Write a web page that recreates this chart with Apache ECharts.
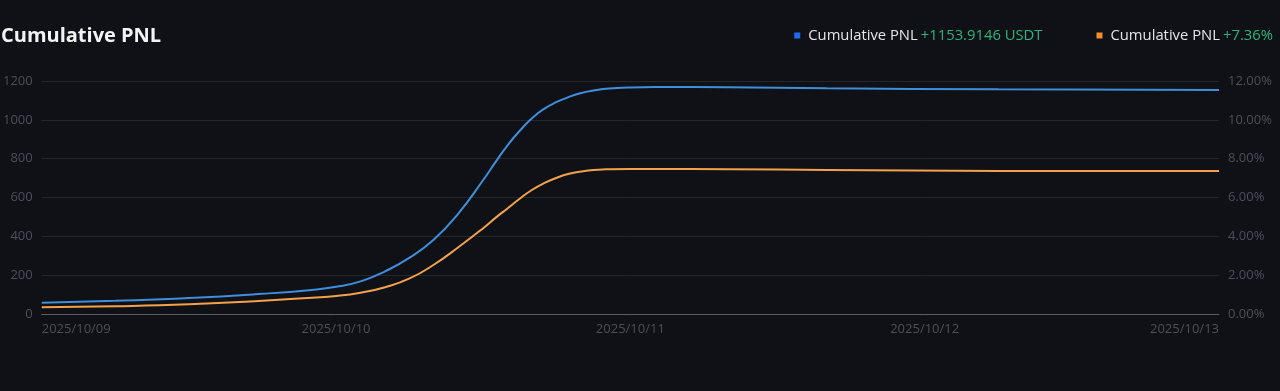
<!DOCTYPE html>
<html>
<head>
<meta charset="utf-8">
<script src="https://cdn.jsdelivr.net/npm/echarts@6/dist/echarts.min.js"></script>
<style>
html,body{margin:0;padding:0;background:#101116;}
#chart{width:1280px;height:391px;}
</style>
</head>
<body>
<div id="chart"></div>
<script>
// Hours since 2025/10/09 00:00
const hours = [0, 6, 12, 18, 22, 24, 26, 28, 30, 32, 34, 36, 37, 38, 39, 40, 41, 42, 43, 44, 45, 46, 48, 50, 56, 64, 78, 96];
// Cumulative PNL in USDT (left axis)
const pnlUsdt = [58, 68, 82, 104, 124, 140, 168, 220, 290, 385, 520, 690, 782, 870, 945, 1010, 1058, 1092, 1118, 1138, 1151, 1160, 1167, 1169, 1168, 1163, 1157, 1153.9146];
// Cumulative PNL in % (right axis)
const pnlPct = [0.35, 0.40, 0.50, 0.68, 0.84, 0.93, 1.10, 1.38, 1.83, 2.55, 3.45, 4.42, 4.95, 5.45, 5.95, 6.40, 6.75, 7.02, 7.22, 7.34, 7.42, 7.45, 7.47, 7.47, 7.46, 7.42, 7.37, 7.36];
const dateLabels = ['2025/10/09', '2025/10/10', '2025/10/11', '2025/10/12', '2025/10/13'];
const leftTicks = [0, 200, 400, 600, 800, 1000, 1200];
const rightTicks = [0, 2, 4, 6, 8, 10, 12];
const legendValues = {usdt: '+1153.9146 USDT', pct: '+7.36%'};

const chart = echarts.init(document.getElementById('chart'), null, {renderer: 'canvas'});
const font = '"Open Sans", "Noto Sans", sans-serif';
const labelColor = '#4c4f58';

chart.setOption({
  backgroundColor: '#101116',
  animation: false,
  title: {
    text: 'Cumulative PNL',
    left: -4,
    top: 21,
    textStyle: {color: '#f2f3f5', fontSize: 20, fontWeight: 'bold', fontFamily: font}
  },
  legend: {
    right: 2,
    top: 23,
    icon: 'rect',
    itemWidth: 6,
    itemHeight: 6,
    itemGap: 54,
    selectedMode: false,
    data: [
      {name: 'usdt', itemStyle: {color: '#1d6cf2'}},
      {name: 'pct', itemStyle: {color: '#f28c2c'}}
    ],
    formatter: function (name) {
      return '{a|Cumulative PNL} {b|' + legendValues[name] + '}';
    },
    textStyle: {
      fontFamily: font,
      padding: [0, 0, 0, 3],
      rich: {
        a: {color: '#e4e5e8', fontSize: 14.8, fontFamily: font},
        b: {color: '#2bb57a', fontSize: 14.8, fontFamily: font}
      }
    }
  },
  grid: {left: 40, right: 61, top: 81, bottom: 77, containLabel: false},
  xAxis: {
    type: 'value',
    min: 0,
    max: 96,
    interval: 24,
    axisLine: {show: true, lineStyle: {color: '#5d5f68', width: 1}},
    axisTick: {show: false},
    splitLine: {show: false},
    axisLabel: {
      color: labelColor,
      fontSize: 13,
      fontFamily: font,
      margin: 9,
      alignMinLabel: 'left',
      alignMaxLabel: 'right',
      formatter: function (v) { return dateLabels[Math.round(v / 24)] || ''; }
    }
  },
  yAxis: [
    {
      type: 'value',
      min: leftTicks[0],
      max: leftTicks[leftTicks.length - 1],
      interval: leftTicks[1] - leftTicks[0],
      position: 'left',
      axisLine: {show: false},
      axisTick: {show: false},
      splitLine: {lineStyle: {color: '#24262d', width: 1}},
      axisLabel: {
        color: labelColor, fontSize: 13, fontFamily: font, margin: 9,
        formatter: function (v) { return String(v); }
      }
    },
    {
      type: 'value',
      min: rightTicks[0],
      max: rightTicks[rightTicks.length - 1],
      interval: rightTicks[1] - rightTicks[0],
      position: 'right',
      axisLine: {show: false},
      axisTick: {show: false},
      splitLine: {show: false},
      axisLabel: {
        color: labelColor, fontSize: 13, fontFamily: font, margin: 9,
        formatter: function (v) { return v.toFixed(2) + '%'; }
      }
    }
  ],
  series: [
    {
      name: 'usdt',
      type: 'line',
      yAxisIndex: 0,
      smooth: 0.5,
      showSymbol: false,
      lineStyle: {color: '#3f8edb', width: 2},
      itemStyle: {color: '#3f8edb'},
      data: hours.map((h, i) => [h, pnlUsdt[i]])
    },
    {
      name: 'pct',
      type: 'line',
      yAxisIndex: 1,
      smooth: 0.5,
      showSymbol: false,
      lineStyle: {color: '#f3a14a', width: 2},
      itemStyle: {color: '#f3a14a'},
      data: hours.map((h, i) => [h, pnlPct[i]])
    }
  ]
});
</script>
</body>
</html>
